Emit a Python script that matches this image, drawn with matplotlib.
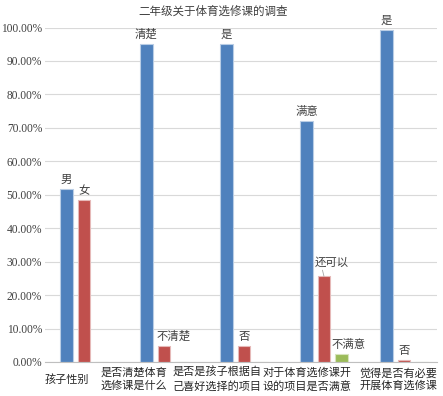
import numpy as np
import matplotlib.pyplot as plt

plt.rcParams['font.family'] = ['Liberation Serif', 'Noto Sans CJK SC']

# data
categories = ["孩子性别", "是否清楚体育\n选修课是什么", "是否是孩子根据自\n己喜好选择的项目",
              "对于体育选修课开\n设的项目是否满意", "觉得是否有必要\n开展体育选修课"]
s1 = [0.516, 0.952, 0.952, 0.720, 0.994]
s2 = [0.484, 0.048, 0.048, 0.256, 0.006]
s3 = [0, 0, 0, 0.024, 0]
s1_labels = ["男", "清楚", "是", "满意", "是"]
s2_labels = ["女", "不清楚", "否", "还可以", "否"]
s3_labels = ["", "", "", "不满意", ""]
yticks = np.arange(0, 1.01, 0.1)

# label nudges (pixels) and category label shifts (category units)
s2_dx = [0, 10, 0, 8, 0]
s3_dx = [0, 0, 0, 7, 0]
cat_shift = [-0.22, -0.38, -0.34, -0.21, -0.075]

fig = plt.figure(figsize=(4.43, 3.96), dpi=100)
ax = fig.add_axes([45/443, 34/396, 392/443, 334.5/396])

x = np.arange(len(categories))
w = 0.16
off = 0.22
cols = ["#4F81BD", "#C0504D", "#9BBB59"]
edges = ["#B9CDE5", "#E6B9B8", "#D7E4BD"]
for k, (vals, labs, dxs) in enumerate([(s1, s1_labels, [0]*5), (s2, s2_labels, s2_dx), (s3, s3_labels, s3_dx)]):
    pos = x + (k - 1) * off
    ax.bar(pos, vals, width=w, color=cols[k], edgecolor=edges[k], linewidth=0.8, zorder=3)
    for px, v, t, dx in zip(pos, vals, labs, dxs):
        if not t:
            continue
        if t == "还可以":
            ax.annotate(t, xy=(px, v), xytext=(dx, 9), textcoords='offset pixels',
                        ha='center', va='bottom', fontsize=8.2, color='#404040',
                        arrowprops=dict(arrowstyle='-', color='#A6A6A6', lw=0.6,
                                        shrinkA=0, shrinkB=0, relpos=(0.2, 0)))
        else:
            ax.annotate(t, xy=(px, v), xytext=(dx, 4), textcoords='offset pixels',
                        ha='center', va='bottom', fontsize=8.2, color='#404040')

ax.set_xlim(-0.4875, 4.4125)
ax.set_ylim(0, 1.0)
ax.set_yticks(yticks)
ax.set_yticklabels(["%.2f%%" % (t * 100) for t in yticks], fontsize=8.3, color='#404040')
ax.tick_params(axis='y', length=0, pad=2)
ax.set_xticks([])
ax.grid(axis='y', color='#D9D9D9', lw=0.8, zorder=0)
for s in ['top', 'right', 'left']:
    ax.spines[s].set_visible(False)
ax.spines['bottom'].set_color('#BFBFBF')
ax.spines['bottom'].set_zorder(4)

trans = ax.get_xaxis_transform()
for i, c in enumerate(categories):
    ax.text(x[i] + cat_shift[i], -0.052, c, transform=trans, ha='center', va='center',
            fontsize=8.0, color='#262626', linespacing=1.3)

fig.text(213/443, 1 - 12/396, "二年级关于体育选修课的调查", ha='center', va='center',
         fontsize=8.3, color='#404040')

plt.savefig("out.png", dpi=100)
